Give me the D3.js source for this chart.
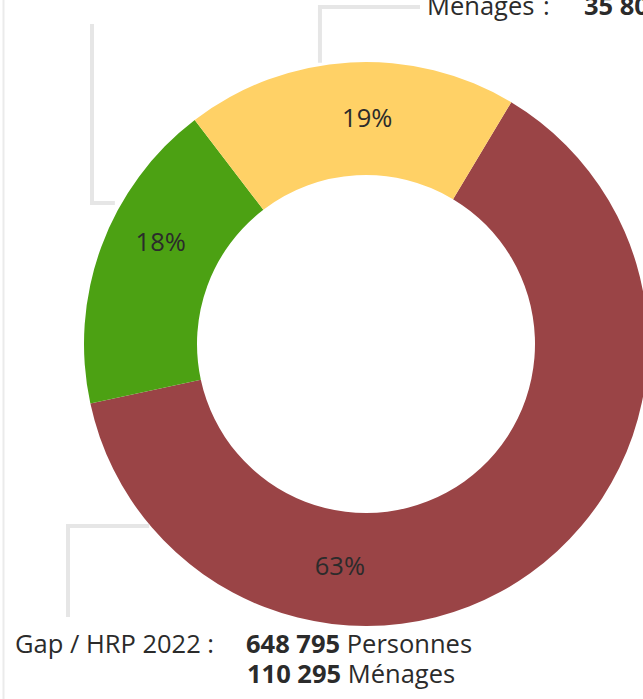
<!DOCTYPE html>
<html>
<head>
<meta charset="utf-8">
<script src="https://cdn.jsdelivr.net/npm/d3@7"></script>
<style>
  html, body { margin: 0; padding: 0; background: #fff; overflow: hidden; }
  text { font-family: "Open Sans", "Noto Sans", sans-serif; fill: #2b2b2b; }
</style>
</head>
<body>
<div class="chart"></div>
<script>
// slices, clockwise from the red one
var categories = ['Gap / HRP 2022', 'Cible B', 'Cible A'];
var shares     = [63, 18, 19];
var colors     = ['#9a4446', '#4ca113', '#ffd166'];

var gapPersons  = '648 795';
var gapMenages  = '110 295';
var topMenages  = '35 806';

var W = 643, H = 699;
var cx = 366, cy = 344;
var outerR = 282, innerR = 169;
var rad = Math.PI / 180;
var fontSize = '25.5px';

var svg = d3.select('.chart')
            .append('svg')
            .attr('width', W)
            .attr('height', H);

// thin frame line on the left
svg.append('line')
   .attr('x1', 3.5).attr('x2', 3.5)
   .attr('y1', 0).attr('y2', H)
   .attr('stroke', '#ebebeb')
   .attr('stroke-width', 2);

var pie = d3.pie()
            .sort(null)
            .value(function(d) { return d; })
            .startAngle(31 * rad)
            .endAngle(31 * rad + 2 * Math.PI);

var arc = d3.arc().innerRadius(innerR).outerRadius(outerR);

var g = svg.append('g').attr('transform', 'translate(' + cx + ',' + cy + ')');

var slices = pie(shares);

g.selectAll('path.slice')
 .data(slices)
 .enter().append('path')
 .attr('class', 'slice')
 .attr('d', arc)
 .attr('fill', function(d, i) { return colors[i]; });

function polar(deg, r) {
  return [Math.sin(deg * rad) * r, -Math.cos(deg * rad) * r];
}

// label angles (deg, clockwise from north) as placed in the original
var labelAngle = [186.7, 296.3, 0.3];
var labelR     = [224, 229, 226];

g.selectAll('text.pct')
 .data(slices)
 .enter().append('text')
 .attr('class', 'pct')
 .attr('x', function(d, i) { return polar(labelAngle[i], labelR[i])[0]; })
 .attr('y', function(d, i) { return polar(labelAngle[i], labelR[i])[1]; })
 .attr('text-anchor', 'middle')
 .attr('dy', '0.35em')
 .style('font-size', fontSize)
 .text(function(d) { return d.data + '%'; });

// leader lines: start on the ring, then a list of h/v moves
var leaders = [
  { angle: 230,   r: 283, moves: [['h', 68], ['v', 617]] },
  { angle: -60.7, r: 288, moves: [['h', 92], ['v', 24]] },
  { angle: -9.3,  r: 285, moves: [['v', 7], ['h', 420]] }
];

leaders.forEach(function(l) {
  var p = polar(l.angle, l.r);
  var x = cx + p[0], y = cy + p[1];
  var path = d3.path();
  path.moveTo(x, y);
  l.moves.forEach(function(m) {
    if (m[0] === 'h') x = m[1]; else y = m[1];
    path.lineTo(x, y);
  });
  svg.append('path')
     .attr('d', path.toString())
     .attr('fill', 'none')
     .attr('stroke', '#e6e6e6')
     .attr('stroke-width', 4);
});

// bottom annotation
svg.append('text')
   .attr('x', 15).attr('y', 653)
   .style('font-size', fontSize)
   .text(categories[0] + ' :');

var t1 = svg.append('text').attr('x', 246).attr('y', 653).style('font-size', fontSize);
t1.append('tspan').style('font-weight', 'bold').text(gapPersons);
t1.append('tspan').text(' Personnes');

var t2 = svg.append('text').attr('x', 247).attr('y', 683).style('font-size', fontSize);
t2.append('tspan').style('font-weight', 'bold').text(gapMenages);
t2.append('tspan').text(' Ménages');

// top annotation (cut by the frame)
var t3 = svg.append('text').attr('y', 15).style('font-size', fontSize);
t3.append('tspan').attr('x', 427).text('Ménages');
t3.append('tspan').attr('x', 543).text(':');
t3.append('tspan').attr('x', 584).style('font-weight', 'bold').text(topMenages);
</script>
</body>
</html>
